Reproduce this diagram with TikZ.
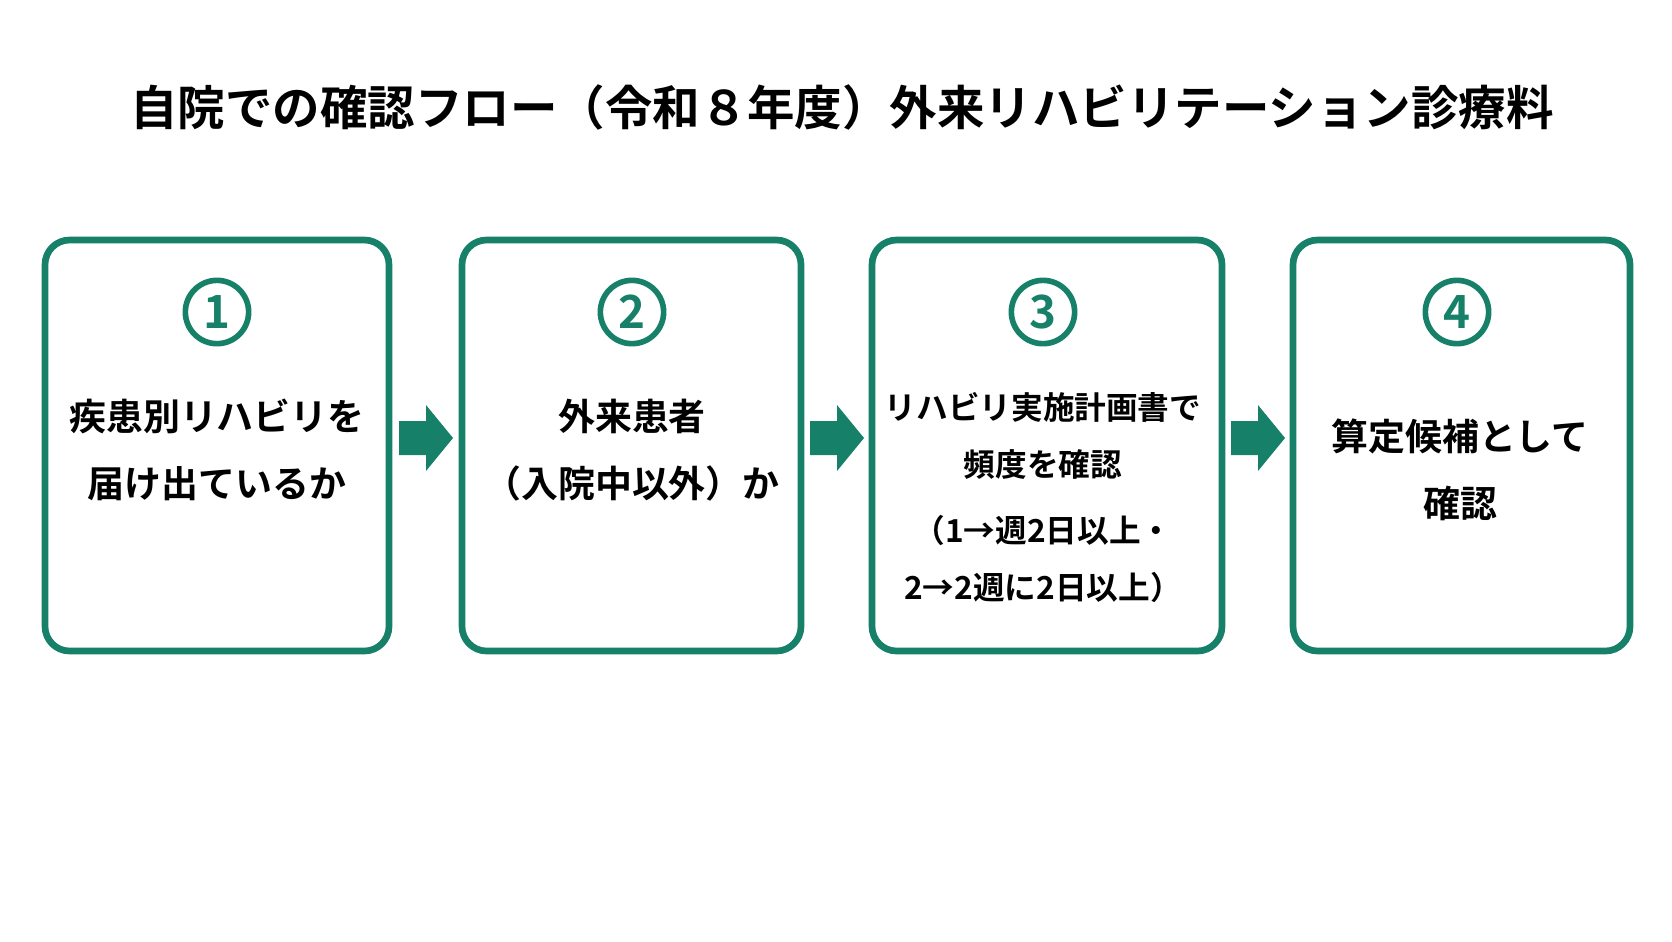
\documentclass[tikz,border=0pt]{standalone}
\usepackage{fontspec}
\setmainfont{Noto Sans CJK JP}[BoldFont={* Bold}]
\definecolor{flowgreen}{RGB}{22,128,105}
\tikzset{
 stepbox/.style={draw=flowgreen, line width=1.9pt, rounded corners=7pt},
 num/.style={circle, draw=flowgreen, line width=1.6pt, text=flowgreen, minimum size=18pt, inner sep=0pt, font=\bfseries\fontsize{13}{13}\selectfont},
 txt/.style={align=center, font=\bfseries\fontsize{10.5}{19}\selectfont},
 small/.style={align=center, font=\bfseries\fontsize{9}{16}\selectfont}
}
\begin{document}
\begin{tikzpicture}[x=0.01cm, y=-0.01cm]
\useasboundingbox[fill=white] (0,0) rectangle (1672,941);
\node (title) at (842,107) [font=\bfseries\fontsize{13.5}{13.5}\selectfont] {自院での確認フロー（令和８年度）外来リハビリテーション診療料};
% steps
\draw[stepbox] (45,240) rectangle (389,651);
\draw[stepbox] (462,240) rectangle (801,651);
\draw[stepbox] (872,240) rectangle (1222,651);
\draw[stepbox] (1293,240) rectangle (1630,651);
\foreach \x/\n in {217/1, 632/2, 1043/3, 1457/4}
 \node[num] (n\n) at (\x,312) {\n};
\node[txt] (t1) at (217,450) {疾患別リハビリを\\届け出ているか};
\node[txt] (t2) at (632,450) {外来患者\\（入院中以外）か};
\node[small] (t3) at (1043,436) {リハビリ実施計画書で\\頻度を確認};
\node[small] (t3b) at (1043,559) {（1→週2日以上・\\2→2週に2日以上）};
\node[txt] (t4) at (1460,470) {算定候補として\\確認};
% arrows
\foreach \x [count=\i] in {426, 837, 1258}
 \fill[flowgreen, shift={(\x,438)}] (-27,-17) -- (0,-17) -- (0,-33) -- (27,0) -- (0,33) -- (0,17) -- (-27,17) -- cycle;
\end{tikzpicture}
\end{document}
